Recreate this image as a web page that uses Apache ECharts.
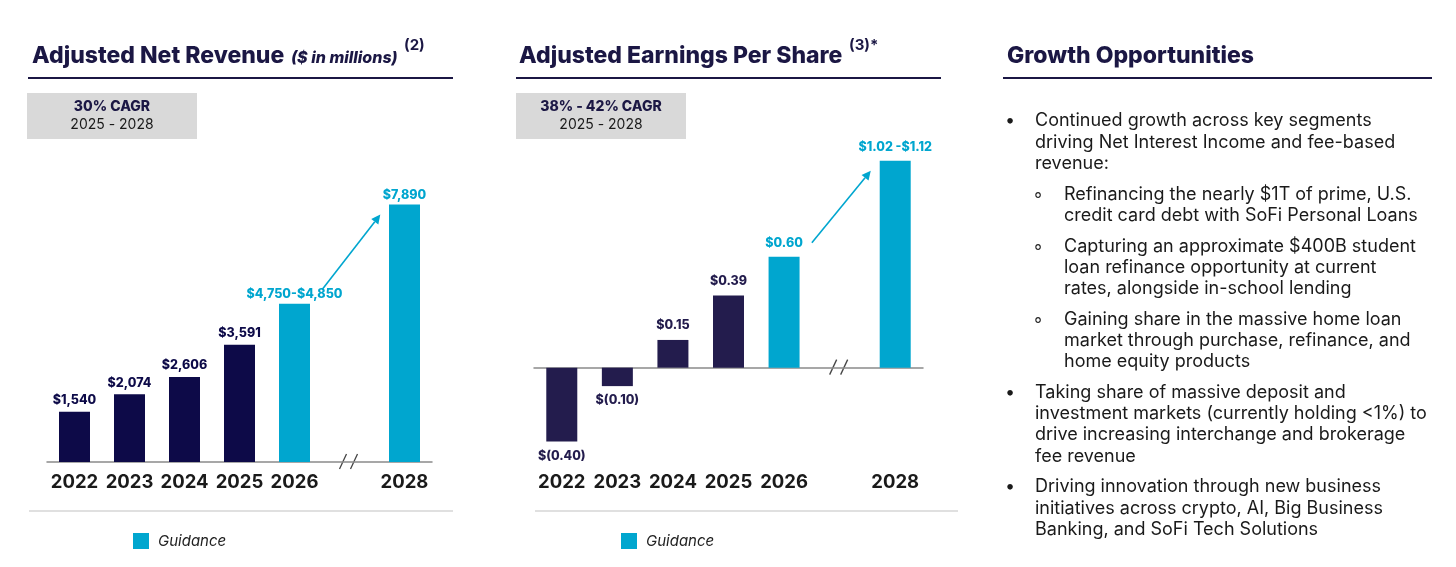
<!DOCTYPE html>
<html>
<head>
<meta charset="utf-8">
<script src="https://cdn.jsdelivr.net/npm/echarts@6/dist/echarts.min.js"></script>
<style>
  html, body { margin: 0; padding: 0; background: #fff; }
  #main { width: 1456px; height: 567px; }
</style>
</head>
<body>
<div id="main"></div>
<script>
// data
const years = ['2022', '2023', '2024', '2025', '2026', '2027', '2028'];
const breakYear = '2027';

const revenueActual = [1540, 2074, 2606, 3591, null, null, null];
const revenueGuideLow = [null, null, null, null, 4750, null, 7890];
const revenueGuideHigh = [null, null, null, null, 4850, null, 7890];

const epsActual = [-0.40, -0.10, 0.15, 0.39, null, null, null];
const epsGuideLow = [null, null, null, null, 0.60, null, 1.02];
const epsGuideHigh = [null, null, null, null, 0.60, null, 1.12];

const revenueCagr = ['30% CAGR', '2025 - 2028'];
const epsCagr = ['38% - 42% CAGR', '2025 - 2028'];

const growthItems = [
  { level: 0, lines: ['Continued growth across key segments', 'driving Net Interest Income and fee-based', 'revenue:'] },
  { level: 1, lines: ['Refinancing the nearly $1T of prime, U.S.', 'credit card debt with SoFi Personal Loans'] },
  { level: 1, lines: ['Capturing an approximate $400B student', 'loan refinance opportunity at current', 'rates, alongside in-school lending'] },
  { level: 1, lines: ['Gaining share in the massive home loan', 'market through purchase, refinance, and', 'home equity products'] },
  { level: 0, lines: ['Taking share of massive deposit and', 'investment markets (currently holding <1%) to', 'drive increasing interchange and brokerage', 'fee revenue'] },
  { level: 0, lines: ['Driving innovation through new business', 'initiatives across crypto, AI, Big Business', 'Banking, and SoFi Tech Solutions'] }
];

const FONT = 'Inter, "Noto Sans", sans-serif';
const NAVY = '#0d0a48';
const NAVY2 = '#231c4d';
const TITLE = '#1b1744';
const CYAN = '#00a6cf';
const AXIS = '#8a8a8a';

const fmtRev = v => '$' + v.toLocaleString('en-US');
const fmtEps = v => v < 0 ? '$(' + Math.abs(v).toFixed(2) + ')' : '$' + v.toFixed(2);

const rangeLabel = (low, high, fmt, sep) => (i) =>
  low[i] === high[i] ? fmt(high[i]) : fmt(low[i]) + sep + fmt(high[i]);

const revGuideLabel = rangeLabel(revenueGuideLow, revenueGuideHigh, fmtRev, '-');
const epsGuideLabel = rangeLabel(epsGuideLow, epsGuideHigh, fmtEps, ' -');

const valueLabel = (color) => ({
  show: true,
  position: 'top',
  distance: 5,
  color: color,
  fontFamily: FONT,
  fontWeight: 800,
  fontSize: 12.5
});

const yearLabel = (margin) => ({
  interval: 0,
  margin: margin,
  color: '#1a1a1a',
  fontFamily: FONT,
  fontWeight: 'bold',
  fontSize: 18.5,
  formatter: v => v === breakYear ? '' : v
});

const chart = echarts.init(document.getElementById('main'));

const option = {
  animation: false,
  grid: [
    { left: 47, right: 1024, top: 201, bottom: 105 },
    { left: 534, right: 533, top: 146, bottom: 107 }
  ],
  xAxis: [
    {
      type: 'category', gridIndex: 0, data: years,
      axisLine: { lineStyle: { color: AXIS, width: 1.5 } },
      axisTick: { show: false },
      axisLabel: yearLabel(11)
    },
    {
      type: 'category', gridIndex: 1, data: years,
      axisLine: { onZero: true, lineStyle: { color: AXIS, width: 1.5 } },
      axisTick: { show: false },
      axisLabel: { show: false }
    },
    {
      type: 'category', gridIndex: 1, data: years, position: 'bottom',
      axisLine: { show: false, onZero: false },
      axisTick: { show: false },
      axisLabel: yearLabel(13)
    }
  ],
  yAxis: [
    { type: 'value', gridIndex: 0, min: 0, max: 8000, show: false, splitLine: { show: false } },
    { type: 'value', gridIndex: 1, min: -0.5, max: 1.2, show: false, splitLine: { show: false } }
  ],
  legend: [
    {
      left: 128, top: 528, data: ['Guidance'], icon: 'rect', itemWidth: 16, itemHeight: 16,
      selectedMode: false,
      textStyle: { fontFamily: FONT, fontStyle: 'italic', fontSize: 15, color: '#222', padding: [0, 0, 0, 4] }
    },
    {
      left: 616, top: 528, data: ['Guidance'], icon: 'rect', itemWidth: 16, itemHeight: 16,
      selectedMode: false,
      textStyle: { fontFamily: FONT, fontStyle: 'italic', fontSize: 15, color: '#222', padding: [0, 0, 0, 4] }
    }
  ],
  series: [
    {
      name: 'Actual', type: 'bar', xAxisIndex: 0, yAxisIndex: 0,
      data: revenueActual, barWidth: 31, barGap: '-100%',
      itemStyle: { color: NAVY },
      label: Object.assign(valueLabel(NAVY), { formatter: p => fmtRev(p.value) })
    },
    {
      name: 'Guidance', type: 'bar', xAxisIndex: 0, yAxisIndex: 0,
      data: revenueGuideHigh, barWidth: 31, barGap: '-100%',
      itemStyle: { color: CYAN },
      label: Object.assign(valueLabel(CYAN), { distance: 3, formatter: p => revGuideLabel(p.dataIndex) })
    },
    {
      name: 'Actual', type: 'bar', xAxisIndex: 1, yAxisIndex: 1,
      data: epsActual.map(v => v == null ? null : { value: v, label: { position: v < 0 ? 'bottom' : 'top' } }),
      barWidth: 31, barGap: '-100%',
      itemStyle: { color: NAVY2 },
      label: Object.assign(valueLabel(NAVY2), { distance: 8, formatter: p => fmtEps(p.value) })
    },
    {
      name: 'Guidance', type: 'bar', xAxisIndex: 1, yAxisIndex: 1,
      data: epsGuideHigh, barWidth: 31, barGap: '-100%',
      itemStyle: { color: CYAN },
      label: Object.assign(valueLabel(CYAN), { distance: 7, formatter: p => epsGuideLabel(p.dataIndex) })
    }
  ]
};

chart.setOption(option);

// ---- annotations: titles, CAGR boxes, axis breaks, arrows, text panel
function txt(text, x, y, font, fill, align) {
  return { type: 'text', silent: true, style: { text: text, x: x, y: y, font: font, fill: fill, align: align || 'left', verticalAlign: 'middle' } };
}

function line(x1, y1, x2, y2, color, width) {
  return { type: 'line', silent: true, shape: { x1: x1, y1: y1, x2: x2, y2: y2 }, style: { stroke: color, lineWidth: width } };
}

function arrow(p1, p2, color) {
  const ang = Math.atan2(p2[1] - p1[1], p2[0] - p1[0]);
  const len = 9, half = 4.5;
  const bx = p2[0] - len * Math.cos(ang), by = p2[1] - len * Math.sin(ang);
  const nx = -Math.sin(ang) * half, ny = Math.cos(ang) * half;
  return [
    line(p1[0], p1[1], bx, by, color, 1.6),
    { type: 'polygon', silent: true, shape: { points: [[p2[0], p2[1]], [bx + nx, by + ny], [bx - nx, by - ny]] }, style: { fill: color } }
  ];
}

function axisBreak(gridIndex) {
  const p = chart.convertToPixel({ gridIndex: gridIndex }, [breakYear, 0]);
  return [
    { type: 'rect', silent: true, shape: { x: p[0] - 11, y: p[1] - 3, width: 22, height: 6 }, style: { fill: '#fff' } },
    line(p[0] - 10, p[1] + 7, p[0] - 3, p[1] - 8, '#444', 1.3),
    line(p[0] + 1, p[1] + 7, p[0] + 8, p[1] - 8, '#444', 1.3)
  ];
}

function guideArrow(gridIndex, highs) {
  const a = chart.convertToPixel({ gridIndex: gridIndex }, ['2026', highs[4]]);
  const b = chart.convertToPixel({ gridIndex: gridIndex }, ['2028', highs[6]]);
  const step = (b[0] - a[0]) / 2;
  return arrow([a[0] + 0.5 * step, a[1] - 14], [b[0] - 0.44 * step, b[1] + 10], CYAN);
}

function cagrBox(x, texts) {
  return [
    { type: 'rect', silent: true, shape: { x: x, y: 93, width: 170, height: 46 }, style: { fill: '#d9d9d9' } },
    txt(texts[0], x + 85, 107, '800 14px ' + FONT, TITLE, 'center'),
    txt(texts[1], x + 85, 125, '14px ' + FONT, '#1a1a1a', 'center')
  ];
}

let graphics = [];
const H1 = '800 23px ' + FONT;

graphics.push(txt('Adjusted Net Revenue', 32, 56, H1, TITLE));
graphics.push(txt('($ in millions)', 291, 58, 'italic 800 16px ' + FONT, TITLE));
graphics.push(txt('(2)', 404, 45, 'bold 15px ' + FONT, TITLE));
graphics.push(line(28, 78, 453, 78, TITLE, 2));

graphics.push(txt('Adjusted Earnings Per Share', 519, 56, H1, TITLE));
graphics.push(txt('(3)*', 849, 45, 'bold 15px ' + FONT, TITLE));
graphics.push(line(516, 78, 941, 78, TITLE, 2));

graphics.push(txt('Growth Opportunities', 1007, 56, H1, TITLE));
graphics.push(line(1003, 78, 1432, 78, TITLE, 2));

graphics = graphics.concat(cagrBox(27, revenueCagr), cagrBox(516, epsCagr));

graphics.push(line(29, 511, 453, 511, '#d6d6d6', 1.5));
graphics.push(line(535, 511, 958, 511, '#d6d6d6', 1.5));

graphics = graphics.concat(axisBreak(0), axisBreak(1));
graphics = graphics.concat(guideArrow(0, revenueGuideHigh), guideArrow(1, epsGuideHigh));

// growth opportunities text
let y = 121;
growthItems.forEach(item => {
  const bx = item.level === 0 ? 1010 : 1038;
  const tx = item.level === 0 ? 1035 : 1064;
  graphics.push(txt(item.level === 0 ? '•' : '◦', bx, y, '18px ' + FONT, '#1a1a1a', 'center'));
  item.lines.forEach(l => {
    graphics.push(txt(l, tx, y, '18px ' + FONT, '#1a1a1a'));
    y += 21.2;
  });
  y += 9.6;
});

chart.setOption({ graphic: graphics });
</script>
</body>
</html>
